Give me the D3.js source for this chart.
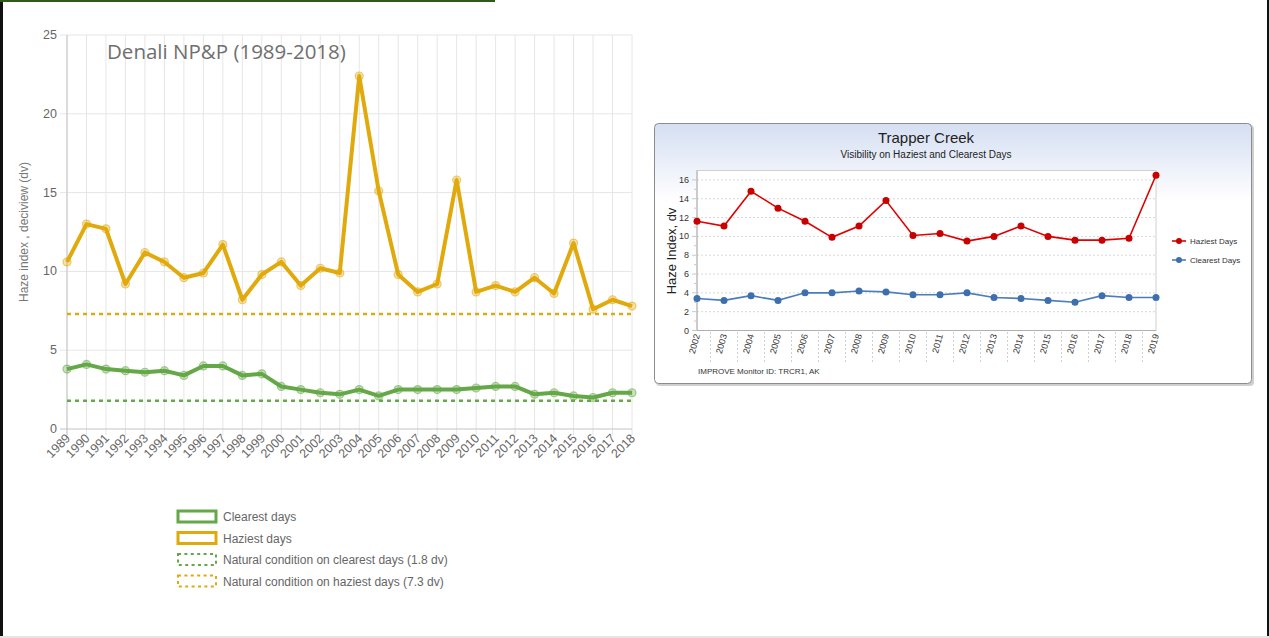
<!DOCTYPE html>
<html>
<head>
<meta charset="utf-8">
<script src="https://cdn.jsdelivr.net/npm/d3@7"></script>
<style>
  body { margin: 0; background: #fff; }
  svg { display: block; }
</style>
</head>
<body>
<svg id="chart" width="1269" height="638"></svg>
<script>
// Denali (left chart)
const denaliYears = d3.range(1989, 2019);
const denaliHaziest = [10.6, 13.0, 12.7, 9.2, 11.2, 10.6, 9.6, 9.9, 11.7, 8.2,
    9.8, 10.6, 9.1, 10.2, 9.9, 22.4, 15.1, 9.8, 8.7, 9.2,
    15.8, 8.7, 9.1, 8.7, 9.6, 8.6, 11.8, 7.6, 8.2, 7.8];
const denaliClearest = [3.8, 4.1, 3.8, 3.7, 3.6, 3.7, 3.4, 4.0, 4.0, 3.4,
    3.5, 2.7, 2.5, 2.3, 2.2, 2.5, 2.1, 2.5, 2.5, 2.5,
    2.5, 2.6, 2.7, 2.7, 2.2, 2.3, 2.1, 2.0, 2.3, 2.3];
const naturalClearest = 1.8;
const naturalHaziest = 7.3;
const denaliTicks = [0, 5, 10, 15, 20, 25];
const denaliLegend = ["Clearest days", "Haziest days",
    "Natural condition on clearest days (1.8 dv)",
    "Natural condition on haziest days (7.3 dv)"];

// Trapper Creek (right chart)
const trapperYears = d3.range(2002, 2020);
const trapperHaziest = [11.6, 11.1, 14.8, 13.0, 11.6, 9.9, 11.1, 13.8, 10.1, 10.3,
    9.5, 10.0, 11.1, 10.0, 9.6, 9.6, 9.8, 16.5];
const trapperClearest = [3.4, 3.2, 3.7, 3.2, 4.0, 4.0, 4.2, 4.1, 3.8, 3.8,
    4.0, 3.5, 3.4, 3.2, 3.0, 3.7, 3.5, 3.5];
const trapperTicks = [0, 2, 4, 6, 8, 10, 12, 14, 16];
const trapperLegend = ["Haziest Days", "Clearest Days"];

const svg = d3.select("#chart");

// page frame
svg.append("rect").attr("x", 0).attr("y", 0).attr("width", 3).attr("height", 638).attr("fill", "#111");
svg.append("rect").attr("x", 1267).attr("y", 0).attr("width", 2).attr("height", 638).attr("fill", "#111");
svg.append("rect").attr("x", 0).attr("y", 636).attr("width", 1269).attr("height", 2).attr("fill", "#e4e4e4");
svg.append("rect").attr("x", 0).attr("y", 0).attr("width", 495).attr("height", 2).attr("fill", "#2f5a1c");

// ---------- left chart ----------
const green = "#64a847", gold = "#e1aa0c";
const x1 = d3.scalePoint().domain(denaliYears).range([67, 632]);
const y1 = d3.scaleLinear().domain([0, 25]).range([429, 35]);
const g1 = svg.append("g").style("font-family", "'Liberation Sans', Arial, sans-serif");

// grille
g1.append("g").selectAll("line").data(denaliYears).enter().append("line")
    .attr("x1", d => x1(d)).attr("x2", d => x1(d))
    .attr("y1", y1(25)).attr("y2", y1(0) + 6)
    .attr("stroke", "#e6e6e6");
g1.append("g").selectAll("line").data(denaliTicks).enter().append("line")
    .attr("x1", 60).attr("x2", 632)
    .attr("y1", d => y1(d)).attr("y2", d => y1(d))
    .attr("stroke", d => d === 0 ? "#c4c4c4" : "#e6e6e6");
g1.append("line").attr("x1", 67).attr("x2", 67).attr("y1", y1(25)).attr("y2", y1(0) + 6)
    .attr("stroke", "#c4c4c4");

g1.append("g").selectAll("text").data(denaliTicks).enter().append("text")
    .attr("x", 57).attr("y", d => y1(d) + 4)
    .attr("text-anchor", "end").attr("font-size", 12.5).attr("fill", "#666")
    .text(d => d);
g1.append("g").selectAll("text").data(denaliYears).enter().append("text")
    .attr("transform", d => `translate(${x1(d) + 4},${y1(0) + 10}) rotate(-45)`)
    .attr("text-anchor", "end").attr("font-size", 12.5).attr("fill", "#666")
    .text(d => d);
g1.append("text")
    .attr("transform", `translate(28,232) rotate(-90)`)
    .attr("text-anchor", "middle").attr("font-size", 12).attr("fill", "#777")
    .text("Haze index , deciview (dv)");

g1.append("text").attr("x", 107).attr("y", 59)
    .style("font-family", "'Open Sans', sans-serif").attr("font-size", 20.5).attr("fill", "#6f6f6f")
    .text("Denali NP&P (1989-2018)");

// natural conditions
[[naturalClearest, green], [naturalHaziest, gold]].forEach(([v, c]) => {
    g1.append("line").attr("x1", 67).attr("x2", 632)
        .attr("y1", y1(v)).attr("y2", y1(v))
        .attr("stroke", c).attr("stroke-width", 2.5).attr("stroke-dasharray", "4,4");
});

const line1 = d3.line().x((d, i) => x1(denaliYears[i])).y(d => y1(d));
[[denaliClearest, green], [denaliHaziest, gold]].forEach(([vals, c]) => {
    g1.append("path").datum(vals).attr("d", line1)
        .attr("fill", "none").attr("stroke", c).attr("stroke-width", 4)
        .attr("stroke-linejoin", "round");
    g1.append("g").selectAll("circle").data(vals).enter().append("circle")
        .attr("cx", (d, i) => x1(denaliYears[i])).attr("cy", d => y1(d)).attr("r", 4)
        .attr("fill", c).attr("fill-opacity", 0.35)
        .attr("stroke", c).attr("stroke-opacity", 0.55).attr("stroke-width", 1.2);
});

// légende
const legColors = [green, gold, green, gold];
const leg1 = g1.append("g").selectAll("g").data(denaliLegend).enter().append("g")
    .attr("transform", (d, i) => `translate(178,${511 + i * 21.5})`);
leg1.append("rect").attr("width", 38).attr("height", 11)
    .attr("fill", "none").attr("stroke", (d, i) => legColors[i])
    .attr("stroke-width", (d, i) => i > 1 ? 2 : 3)
    .attr("stroke-dasharray", (d, i) => i > 1 ? "3,3.4" : null);
leg1.append("text").attr("x", 45).attr("y", 10)
    .attr("font-size", 12).attr("fill", "#666").text(d => d);

// ---------- right chart ----------
const red = "#e00000", blue = "#4a7dbf";
const g2 = svg.append("g").style("font-family", "'Liberation Sans', Arial, sans-serif");
const defs = svg.append("defs");
const grad = defs.append("linearGradient").attr("id", "bg").attr("x1", 0).attr("y1", 0).attr("x2", 0).attr("y2", 1);
grad.append("stop").attr("offset", "0%").attr("stop-color", "#d5dff2");
grad.append("stop").attr("offset", "30%").attr("stop-color", "#ffffff");

g2.append("rect").attr("x", 656).attr("y", 125).attr("width", 598).attr("height", 261).attr("rx", 4)
    .attr("fill", "#cfcfcf");
g2.append("rect").attr("x", 654.5).attr("y", 123.5).attr("width", 597).attr("height", 260).attr("rx", 4)
    .attr("fill", "url(#bg)").attr("stroke", "#8c8c8c");

g2.append("text").attr("x", 926).attr("y", 143).attr("text-anchor", "middle")
    .attr("font-size", 15).attr("fill", "#222").text("Trapper Creek");
g2.append("text").attr("x", 926).attr("y", 158).attr("text-anchor", "middle")
    .attr("font-size", 10).attr("fill", "#222").text("Visibility on Haziest and Clearest Days");

const x2 = d3.scalePoint().domain(trapperYears).range([697, 1156]);
const y2 = d3.scaleLinear().domain([0, 17]).range([330.5, 170.5]);

g2.append("rect").attr("x", 697).attr("y", 170.5).attr("width", 459).attr("height", 160)
    .attr("fill", "#fff").attr("stroke", "#d0d0d0");
g2.append("g").selectAll("line").data(trapperTicks.filter(d => d > 0)).enter().append("line")
    .attr("x1", 697).attr("x2", 1156)
    .attr("y1", d => y2(d)).attr("y2", d => y2(d))
    .attr("stroke", "#d8d8d8").attr("stroke-dasharray", "2,2");
g2.append("line").attr("x1", 697).attr("x2", 697).attr("y1", 170.5).attr("y2", 330.5).attr("stroke", "#b0b0b0");
g2.append("line").attr("x1", 697).attr("x2", 1156).attr("y1", 330.5).attr("y2", 330.5).attr("stroke", "#b0b0b0");

// petites graduations
g2.append("g").selectAll("line").data(d3.range(0, 17)).enter().append("line")
    .attr("x1", d => d % 2 === 0 ? 692 : 694).attr("x2", 697)
    .attr("y1", d => y2(d)).attr("y2", d => y2(d))
    .attr("stroke", "#c8c8c8");
g2.append("g").selectAll("text").data(trapperTicks).enter().append("text")
    .attr("x", 689).attr("y", d => y2(d) + 3)
    .attr("text-anchor", "end").attr("font-size", 9).attr("fill", "#333").text(d => d);

const step = x2.step();
g2.append("g").selectAll("line").data(trapperYears.slice(0, -1)).enter().append("line")
    .attr("x1", d => x2(d) + step / 2).attr("x2", d => x2(d) + step / 2)
    .attr("y1", 332).attr("y2", 362)
    .attr("stroke", "#d0d0d0").attr("stroke-dasharray", "2,2");
g2.append("g").selectAll("text").data(trapperYears).enter().append("text")
    .attr("transform", d => `translate(${x2(d) + 3},${335}) rotate(-75)`)
    .attr("text-anchor", "end").attr("font-size", 9).attr("fill", "#333").text(d => d);

g2.append("text").attr("transform", "translate(676,251) rotate(-90)")
    .attr("text-anchor", "middle").attr("font-size", 13).attr("fill", "#222").text("Haze Index, dv");
g2.append("text").attr("x", 698).attr("y", 374)
    .attr("font-size", 8).attr("fill", "#333").text("IMPROVE Monitor ID: TRCR1, AK");

const line2 = d3.line().x((d, i) => x2(trapperYears[i])).y(d => y2(d));
[[trapperHaziest, red, "#c80000"], [trapperClearest, blue, "#3d6fae"]].forEach(([vals, c, c2]) => {
    g2.append("path").datum(vals).attr("d", line2)
        .attr("fill", "none").attr("stroke", c).attr("stroke-width", 1.6);
    g2.append("g").selectAll("circle").data(vals).enter().append("circle")
        .attr("cx", (d, i) => x2(trapperYears[i])).attr("cy", d => y2(d)).attr("r", 3.5)
        .attr("fill", c2);
});

const leg2 = g2.append("g").selectAll("g").data(trapperLegend).enter().append("g")
    .attr("transform", (d, i) => `translate(1172,${241 + i * 19})`);
leg2.append("line").attr("x1", 0).attr("x2", 14).attr("stroke", (d, i) => i ? blue : red).attr("stroke-width", 1.6);
leg2.append("circle").attr("cx", 7).attr("r", 3).attr("fill", (d, i) => i ? "#3d6fae" : "#c80000");
leg2.append("text").attr("x", 18).attr("y", 3).attr("font-size", 8).attr("fill", "#333").text(d => d);
</script>
</body>
</html>
